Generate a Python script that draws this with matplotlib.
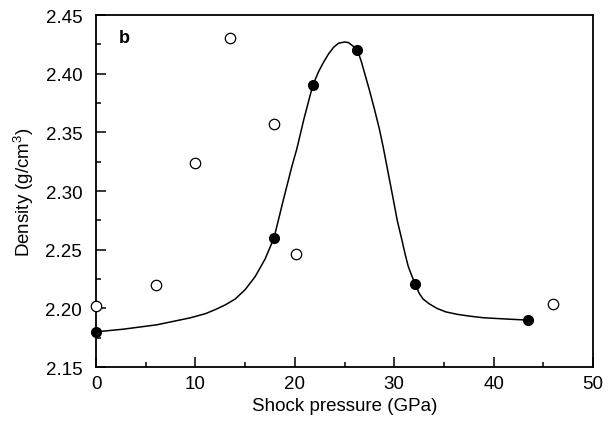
import numpy as np
import matplotlib
matplotlib.use("Agg")
import matplotlib.pyplot as plt
from matplotlib.ticker import MultipleLocator

# measured densities (filled) and other samples (open)
filled_p = [0.0, 17.9, 21.8, 26.3, 32.1, 43.5]
filled_rho = [2.180, 2.260, 2.390, 2.420, 2.221, 2.190]

open_p = [0.0, 6.0, 10.0, 13.5, 17.9, 20.1, 46.0]
open_rho = [2.202, 2.220, 2.324, 2.430, 2.357, 2.246, 2.204]

# smooth guide curve
curve_p = [0.0, 2.75, 6.1, 9.5, 11.0, 12.0, 13.0, 14.0, 15.0, 16.0, 17.0,
           17.9, 18.8, 19.7, 20.2, 20.9, 21.8, 22.4, 22.9, 23.4, 23.9, 24.4,
           25.0, 25.4, 25.7, 26.0, 26.3, 26.7, 27.1, 27.5, 28.0, 28.5, 28.9,
           29.4, 29.9, 30.3, 30.75, 31.1, 31.4, 31.8, 32.1, 32.5, 32.9, 33.5,
           34.3, 35.2, 36.3, 37.5, 39.0, 41.6, 43.5]
curve_rho = [2.180, 2.1823, 2.186, 2.192, 2.1955, 2.199, 2.203, 2.208, 2.216,
             2.227, 2.242, 2.260, 2.291, 2.321, 2.336, 2.361, 2.390, 2.402,
             2.410, 2.417, 2.4225, 2.426, 2.427, 2.4265, 2.4245, 2.4225,
             2.420, 2.410, 2.398, 2.386, 2.370, 2.353, 2.337, 2.315, 2.293,
             2.275, 2.259, 2.246, 2.236, 2.227, 2.221, 2.213, 2.208, 2.204,
             2.200, 2.197, 2.195, 2.1935, 2.192, 2.1908, 2.190]

plt.rcParams['font.family'] = ['Liberation Sans', 'DejaVu Sans']
plt.rcParams['mathtext.fontset'] = 'custom'
plt.rcParams['mathtext.rm'] = 'Liberation Sans'

fig = plt.figure(figsize=(6.12, 4.27), dpi=100)
ax = fig.add_axes([0.157, 0.138, 0.812, 0.8245])

ax.plot(curve_p, curve_rho, color='black', lw=1.1, zorder=2,
        solid_joinstyle='round')
ax.plot(filled_p, filled_rho, 'o', color='black', ms=7, zorder=3, clip_on=False)
ax.plot(open_p, open_rho, 'o', mfc='white', mec='black', mew=0.9, ms=7.5,
        zorder=3, clip_on=False)

ax.set_xlim(0, 50)
ax.set_ylim(2.15, 2.45)
ax.xaxis.set_major_locator(MultipleLocator(10))
ax.xaxis.set_minor_locator(MultipleLocator(5))
ax.yaxis.set_major_locator(MultipleLocator(0.05))
ax.yaxis.set_minor_locator(MultipleLocator(0.025))
ax.yaxis.set_major_formatter(matplotlib.ticker.FormatStrFormatter('%.2f'))

ax.tick_params(which='both', direction='in', top=False, right=False,
               width=1.1, labelsize=13.5)
ax.tick_params(which='major', length=7.5)
ax.tick_params(which='minor', length=3.5)
ax.tick_params(axis='y', pad=10)
ax.tick_params(axis='x', pad=6)
for s in ax.spines.values():
    s.set_linewidth(1.3)

ax.set_xlabel('Shock pressure (GPa)', fontsize=13.5, labelpad=3)
ax.set_ylabel('Density (g/cm$^3$)', fontsize=13.5, labelpad=7)
ax.text(0.045, 0.935, 'b', transform=ax.transAxes, fontsize=13,
        fontweight='bold', va='center')

fig.savefig('out.png', dpi=100)
